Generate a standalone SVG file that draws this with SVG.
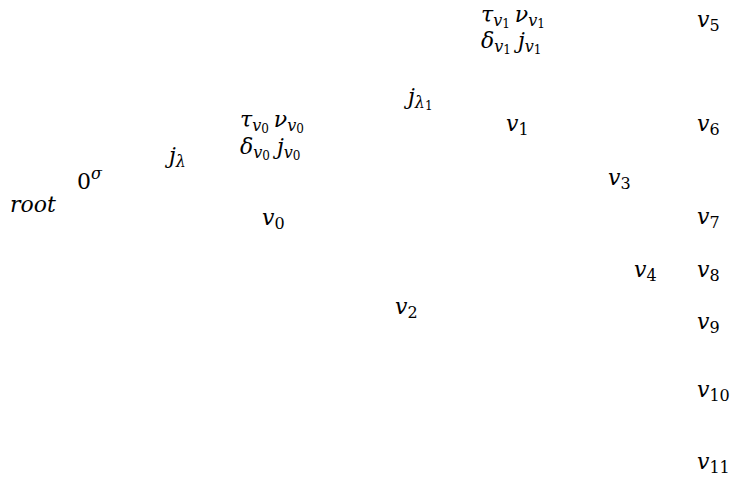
<svg xmlns="http://www.w3.org/2000/svg" width="749" height="482" viewBox="0 0 749 482">
<style>
text{font-family:'DejaVu Serif',serif;font-style:italic;font-size:22px;fill:#000}
.s{font-size:16px}
.ss{font-size:12px}
.u{font-style:normal}
</style>
<rect width="749" height="482" fill="#fff"/>
<g id="labels-v1"><text x="481" y="22">τ<tspan class="s" dy="4">v</tspan><tspan class="ss u" dy="2">1</tspan><tspan dy="-6" dx="5">ν</tspan><tspan class="s" dy="4">v</tspan><tspan class="ss u" dy="2">1</tspan></text>
<text x="481" y="48">δ<tspan class="s" dy="4">v</tspan><tspan class="ss u" dy="2">1</tspan><tspan dy="-6" dx="7">j</tspan><tspan class="s" dy="4">v</tspan><tspan class="ss u" dy="2">1</tspan></text></g>
<g id="labels-v0"><text x="240" y="127">τ<tspan class="s" dy="4">v</tspan><tspan class="ss u" dy="2">0</tspan><tspan dy="-6" dx="5">ν</tspan><tspan class="s" dy="4">v</tspan><tspan class="ss u" dy="2">0</tspan></text>
<text x="240" y="154">δ<tspan class="s" dy="4">v</tspan><tspan class="ss u" dy="2">0</tspan><tspan dy="-6" dx="7">j</tspan><tspan class="s" dy="4">v</tspan><tspan class="ss u" dy="2">0</tspan></text></g>
<g id="jl1"><text x="408" y="104">j<tspan class="s" dy="4">λ</tspan><tspan class="ss u" dy="2">1</tspan></text></g>
<g id="jl"><text x="169" y="163">j<tspan class="s" dy="4">λ</tspan></text></g>
<g id="zero"><text x="77" y="189"><tspan class="u">0</tspan><tspan class="s" dy="-10">σ</tspan></text></g>
<g id="root"><text x="10" y="212">root</text></g>
<g id="v0"><text x="262" y="225">v<tspan class="s u" dy="4">0</tspan></text></g>
<g id="v1"><text x="506" y="131">v<tspan class="s u" dy="4">1</tspan></text></g>
<g id="v2"><text x="395" y="314">v<tspan class="s u" dy="4">2</tspan></text></g>
<g id="v3"><text x="608" y="185">v<tspan class="s u" dy="4">3</tspan></text></g>
<g id="v4"><text x="634" y="277">v<tspan class="s u" dy="4">4</tspan></text></g>
<g id="v5"><text x="697" y="27">v<tspan class="s u" dy="4">5</tspan></text></g>
<g id="v6"><text x="697" y="131">v<tspan class="s u" dy="4">6</tspan></text></g>
<g id="v7"><text x="697" y="224">v<tspan class="s u" dy="4">7</tspan></text></g>
<g id="v8"><text x="697" y="277">v<tspan class="s u" dy="4">8</tspan></text></g>
<g id="v9"><text x="697" y="329">v<tspan class="s u" dy="4">9</tspan></text></g>
<g id="v10"><text x="697" y="397">v<tspan class="s u" dy="4">10</tspan></text></g>
<g id="v11"><text x="697" y="469">v<tspan class="s u" dy="4">11</tspan></text></g>
<g id="connectors"></g>
</svg>
